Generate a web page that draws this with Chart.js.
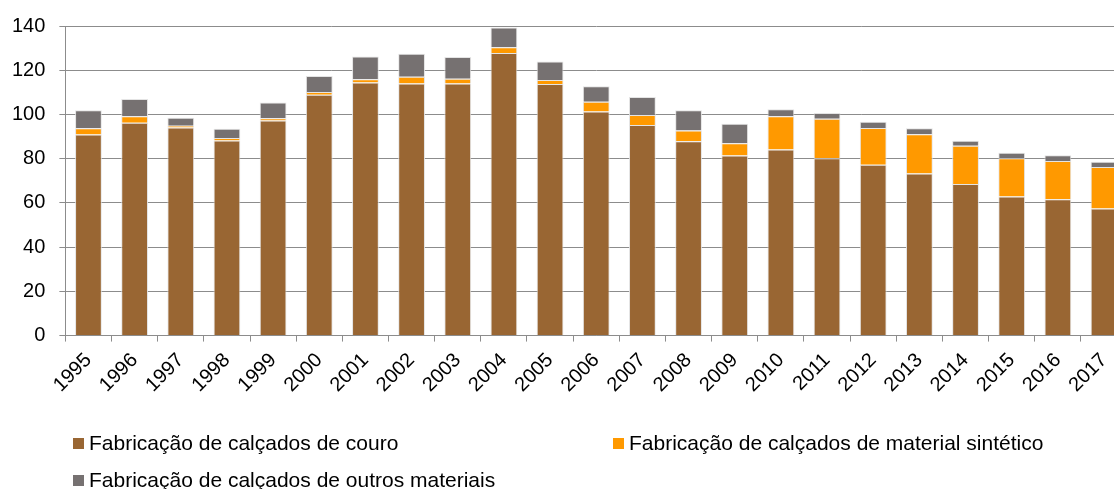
<!DOCTYPE html>
<html>
<head>
<meta charset="utf-8">
<script src="https://cdn.jsdelivr.net/npm/chart.js@4/dist/chart.umd.min.js"></script>
<style>
    html, body {
        margin: 0;
        padding: 0;
        background: #fff;
        overflow: hidden;
    }
    #wrap {
        position: relative;
        width: 1114px;
        height: 489px;
        overflow: hidden;
    }
    #box {
        position: absolute;
        left: -13px;
        top: 0;
        width: 1141px;
        height: 489px;
    }
    #legend {
        position: absolute;
        left: 0;
        top: 0;
        width: 1114px;
        height: 489px;
        font-family: "Liberation Sans", Arial, sans-serif;
        font-size: 21px;
        color: #000;
        pointer-events: none;
    }
    .item {
        position: absolute;
        white-space: nowrap;
        line-height: 24px;
    }
    .item .sw {
        position: absolute;
        left: 0;
        top: 7px;
        width: 11px;
        height: 11px;
    }
    .item .tx {
        position: absolute;
        left: 16px;
        top: 0;
    }
</style>
</head>
<body>
<div id="wrap">
    <div id="box"><canvas id="chart"></canvas></div>
    <div id="legend"></div>
</div>
<script>
'use strict';

const years = [
    '1995', '1996', '1997', '1998', '1999', '2000', '2001', '2002',
    '2003', '2004', '2005', '2006', '2007', '2008', '2009', '2010',
    '2011', '2012', '2013', '2014', '2015', '2016', '2017',
];

// Fabricação de calçados de couro
const couro = [
    90.9, 96.2, 94.1, 88.2, 97.3, 108.9, 114.4, 114.0,
    114.0, 127.8, 113.8, 101.3, 95.2, 87.9, 81.4, 84.2,
    80.2, 77.2, 73.3, 68.5, 62.9, 61.6, 57.5,
];

// Fabricação de calçados de material sintético
const sintetico = [
    2.9, 3.0, 0.8, 1.1, 1.0, 1.3, 1.5, 3.0,
    2.1, 2.6, 1.8, 4.4, 4.6, 4.8, 5.6, 15.0,
    17.9, 16.7, 17.8, 17.3, 17.3, 17.4, 18.7,
];

// Fabricação de calçados de outros materiais
const outros = [
    8.1, 7.8, 3.6, 4.2, 7.1, 7.2, 10.3, 10.5,
    9.9, 8.9, 8.3, 7.1, 8.1, 9.2, 8.8, 3.2,
    2.6, 2.8, 2.7, 2.3, 2.5, 2.6, 2.4,
];

const yTicks = [0, 20, 40, 60, 80, 100, 120, 140];

const seriesNames = [
    'Fabricação de calçados de couro',
    'Fabricação de calçados de material sintético',
    'Fabricação de calçados de outros materiais',
];
const seriesColors = ['#996633', '#FF9900', '#767171'];

const gridColor = '#8c8c8c';
const fontFamily = '"Liberation Sans", Arial, sans-serif';

/**
 * Build one stacked bar dataset.
 */
const makeSet = (idx, values) => ({
    label: seriesNames[idx],
    data: values,
    backgroundColor: seriesColors[idx],
    borderColor: 'rgba(225, 225, 225, 0.9)',
    borderWidth: 1,
    barPercentage: 0.58,
    categoryPercentage: 1.0,
});

const chart = new Chart(document.getElementById('chart'), {
    type: 'bar',
    data: {
        labels: years,
        datasets: [
            makeSet(0, couro),
            makeSet(1, sintetico),
            makeSet(2, outros),
        ],
    },
    options: {
        responsive: true,
        maintainAspectRatio: false,
        animation: false,
        layout: {
            padding: {left: 11, right: 0, top: 15, bottom: 85},
        },
        plugins: {
            legend: {display: false},
            tooltip: {enabled: false},
        },
        scales: {
            x: {
                stacked: true,
                grid: {
                    display: true,
                    drawOnChartArea: false,
                    drawTicks: true,
                    tickLength: 6,
                    color: gridColor,
                    offset: true,
                },
                border: {display: true, color: gridColor, width: 1},
                ticks: {
                    color: '#000',
                    font: {family: fontFamily, size: 20},
                    minRotation: 45,
                    maxRotation: 45,
                    padding: 7,
                    autoSkip: false,
                },
            },
            y: {
                stacked: true,
                min: 0,
                max: 140,
                afterBuildTicks: (axis) => {
                    axis.ticks = yTicks.map((v) => ({value: v}));
                },
                grid: {
                    color: gridColor,
                    lineWidth: 1,
                    tickLength: 6,
                },
                border: {display: true, color: gridColor, width: 1},
                ticks: {
                    color: '#000',
                    font: {family: fontFamily, size: 20},
                    padding: 14,
                },
            },
        },
    },
});

// HTML legend, two columns like the original.
const legendPos = [
    {left: 73, top: 431},
    {left: 613, top: 431},
    {left: 73, top: 468},
];
const legendBox = document.getElementById('legend');
chart.data.datasets.forEach((ds, i) => {
    const item = document.createElement('div');
    item.className = 'item';
    item.style.left = legendPos[i].left + 'px';
    item.style.top = legendPos[i].top + 'px';
    const sw = document.createElement('span');
    sw.className = 'sw';
    sw.style.background = ds.backgroundColor;
    const tx = document.createElement('span');
    tx.className = 'tx';
    tx.textContent = ds.label;
    item.appendChild(sw);
    item.appendChild(tx);
    legendBox.appendChild(item);
});
</script>
</body>
</html>
